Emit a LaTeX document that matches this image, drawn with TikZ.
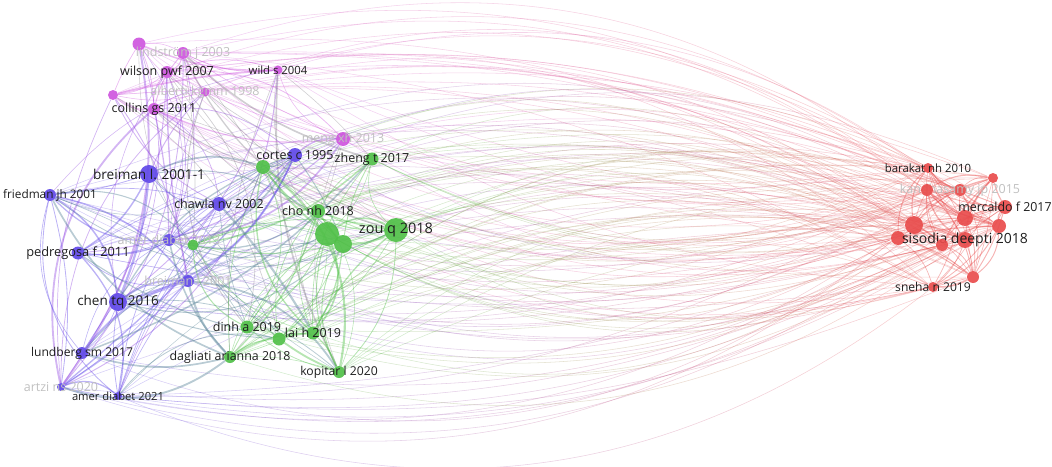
\documentclass[tikz,border=0pt]{standalone}
\usepackage{fontspec}
\setmainfont{Open Sans}
\usetikzlibrary{backgrounds,fadings}
\definecolor{redc}{RGB}{233,76,76}
\definecolor{greenc}{RGB}{80,192,72}
\definecolor{bluec}{RGB}{96,72,232}
\definecolor{magc}{RGB}{206,86,222}
\definecolor{labc}{RGB}{30,30,30}
\definecolor{fadec}{RGB}{192,192,192}
\begin{document}
\begin{tikzpicture}[x=1pt,y=-1pt,
  nd/.style={circle,inner sep=0pt,fill=#1,fill opacity=0.92,draw=none},
  lab/.style={text=labc,font=\fontsize{#1}{#1}\selectfont,inner sep=0pt},
  lab/.default=12.5,
  fade/.style={text=fadec,font=\fontsize{12.5}{12.5}\selectfont,inner sep=0pt},
  longedge/.style={line width=0.55pt,draw opacity=0.27},
  shortedge/.style={draw opacity=0.42}]
\useasboundingbox (0,0) rectangle (1052,466);
% magenta cluster
\node[nd=magc,minimum size=13pt] (m1) at (139,44) {};
\node[nd=magc,minimum size=12pt,label={[fade]center:lindström j 2003}] (m2) at (183,53) {};
\node[nd=magc,minimum size=12pt,label={[lab]center:wilson pwf 2007}] (m3) at (167,72) {};
\node[nd=magc,minimum size=9pt,label={[lab=11.3]center:wild s 2004}] (m4) at (278,70) {};
\node[nd=magc,minimum size=10pt] (m5) at (113,95) {};
\node[nd=magc,minimum size=9pt,label={[fade]center:alberti kgmm 1998}] (m6) at (205,92) {};
\node[nd=magc,minimum size=12pt,label={[lab]center:collins gs 2011}] (m7) at (154,109) {};
\node[nd=magc,minimum size=14pt,label={[fade]center:meng xh 2013}] (m8) at (343,139) {};
% blue cluster
\node[nd=bluec,minimum size=14pt,label={[lab]center:cortes c 1995}] (b1) at (295,155) {};
\node[nd=bluec,minimum size=18pt,label={[lab=13.6]center:breiman l. 2001-1}] (b2) at (149,174) {};
\node[nd=bluec,minimum size=12pt,label={[lab=11.8]center:friedman jh 2001}] (b3) at (50,195) {};
\node[nd=bluec,minimum size=14pt,label={[lab]center:chawla nv 2002}] (b4) at (219,204) {};
\node[nd=bluec,minimum size=12pt,label={[fade]center:amer diabet 2013}] (b5) at (169,240) {};
\node[nd=bluec,minimum size=13pt,label={[lab=12.8]center:pedregosa f 2011}] (b6) at (78,253) {};
\node[nd=bluec,minimum size=12pt,label={[fade]center:breiman l 2001}] (b7) at (188,281) {};
\node[nd=bluec,minimum size=18pt,label={[lab=13.5]center:chen tq 2016}] (b8) at (118,302) {};
\node[nd=bluec,minimum size=12pt,label={[lab=12.1]center:lundberg sm 2017}] (b9) at (82,353) {};
\node[nd=bluec,minimum size=8pt,label={[fade]center:artzi ns 2020}] (b10) at (61,387) {};
\node[nd=bluec,minimum size=8pt,label={[lab=11.2]center:amer diabet 2021}] (b11) at (118,396) {};
% green cluster
\node[nd=greenc,minimum size=14pt] (g1) at (263,167) {};
\node[nd=greenc,minimum size=13pt,label={[lab]center:zheng t 2017}] (g2) at (372,159) {};
\node[nd=greenc,minimum size=14pt,label={[lab]center:cho nh 2018}] (g3) at (318,211) {};
\node[nd=greenc,minimum size=24pt] (g4) at (327,234) {};
\node[nd=greenc,minimum size=18pt] (g5) at (343,244) {};
\node[nd=greenc,minimum size=24pt,label={[lab=14.5]center:zou q 2018}] (g6) at (396,230) {};
\node[nd=greenc,minimum size=11pt] (g7) at (193,245) {};
\node[nd=greenc,minimum size=13pt,label={[lab]center:dinh a 2019}] (g8) at (247,327) {};
\node[nd=greenc,minimum size=13pt] (g9) at (279,339) {};
\node[nd=greenc,minimum size=13pt,label={[lab]center:lai h 2019}] (g10) at (313,333) {};
\node[nd=greenc,minimum size=12pt,label={[lab=12.4]center:dagliati arianna 2018}] (g11) at (230,357) {};
\node[nd=greenc,minimum size=12pt,label={[lab=12.2]center:kopitar l 2020}] (g12) at (339,372) {};
% red cluster
\node[nd=redc,minimum size=14pt] (r1) at (898,238) {};
\node[nd=redc,minimum size=18pt] (r2) at (914,225) {};
\node[nd=redc,minimum size=16pt] (r3) at (965,218) {};
\node[nd=redc,minimum size=16pt,label={[lab=14]center:sisodia deepti 2018}] (r4) at (965,240) {};
\node[nd=redc,minimum size=12pt] (r5) at (942,245) {};
\node[nd=redc,minimum size=14pt] (r6) at (999,226) {};
\node[nd=redc,minimum size=14pt,label={[lab=12.4]center:mercaldo f 2017}] (r7) at (1005,207) {};
\node[nd=redc,minimum size=12pt,label={[fade]center:kandhasamy jp 2015}] (r8) at (960,190) {};
\node[nd=redc,minimum size=12pt] (r9) at (927,190) {};
\node[nd=redc,minimum size=10pt,label={[lab=11.4]center:barakat nh 2010}] (r10) at (928,168) {};
\node[nd=redc,minimum size=10pt] (r11) at (993,178) {};
\node[nd=redc,minimum size=12pt] (r12) at (973,277) {};
\node[nd=redc,minimum size=10pt,label={[lab=12.1]center:sneha n 2019}] (r13) at (933,287) {};
\def\Left{m1/magc,m2/magc,m3/magc,m4/magc,m5/magc,m6/magc,m7/magc,m8/magc,b1/bluec,b2/bluec,b3/bluec,b4/bluec,b5/bluec,b6/bluec,b7/bluec,b8/bluec,b9/bluec,b10/bluec,b11/bluec,g1/greenc,g2/greenc,g3/greenc,g4/greenc,g5/greenc,g6/greenc,g7/greenc,g8/greenc,g9/greenc,g10/greenc,g11/greenc,g12/greenc}
\begin{pgfonlayer}{background}
\pgfmathsetseed{11}
% long edges left -> red, coloured from source colour to red
\foreach \s/\c in \Left {
  \foreach \i in {1,...,13} {
    \pgfmathtruncatemacro\keep{rnd<0.42}
    \ifnum\keep=1
      \pgfmathsetmacro\ang{9+23*rnd}
      \pgfmathtruncatemacro\side{rnd<0.5}
      \ifnum\side=1
        \draw[longedge,color=\c,path fading=east] (\s) to[bend left=\ang] (r\i);
        \draw[longedge,color=redc,path fading=west] (\s) to[bend left=\ang] (r\i);
      \else
        \draw[longedge,color=\c,path fading=east] (\s) to[bend right=\ang] (r\i);
        \draw[longedge,color=redc,path fading=west] (\s) to[bend right=\ang] (r\i);
      \fi
    \fi
  }
}
% edges within the left part
\foreach \s/\c [count=\ii] in \Left {
  \foreach \t/\d [count=\jj] in \Left {
    \ifnum\jj>\ii
      \ifx\c\d \def\pp{0.65}\else\def\pp{0.3}\fi
      \pgfmathtruncatemacro\keep{rnd<\pp}
      \ifnum\keep=1
        \pgfmathsetmacro\ang{4+28*rnd}
        \pgfmathsetmacro\lw{0.5+1.8*rnd*rnd}
        \pgfmathtruncatemacro\side{rnd<0.5}
        \ifnum\side=1
          \draw[shortedge,line width=\lw pt,color=\c!50!\d] (\s) to[bend left=\ang] (\t);
        \else
          \draw[shortedge,line width=\lw pt,color=\c!50!\d] (\s) to[bend right=\ang] (\t);
        \fi
      \fi
    \fi
  }
}
% edges within the red cluster
\foreach \i in {1,...,13} {
  \foreach \j in {1,...,13} {
    \ifnum\j>\i
      \pgfmathtruncatemacro\keep{rnd<0.7}
      \ifnum\keep=1
        \pgfmathsetmacro\ang{5+20*rnd}
        \pgfmathsetmacro\lw{0.5+1.4*rnd*rnd}
        \draw[shortedge,line width=\lw pt,color=redc] (r\i) to[bend left=\ang] (r\j);
      \fi
    \fi
  }
}
\end{pgfonlayer}
\end{tikzpicture}
\end{document}
